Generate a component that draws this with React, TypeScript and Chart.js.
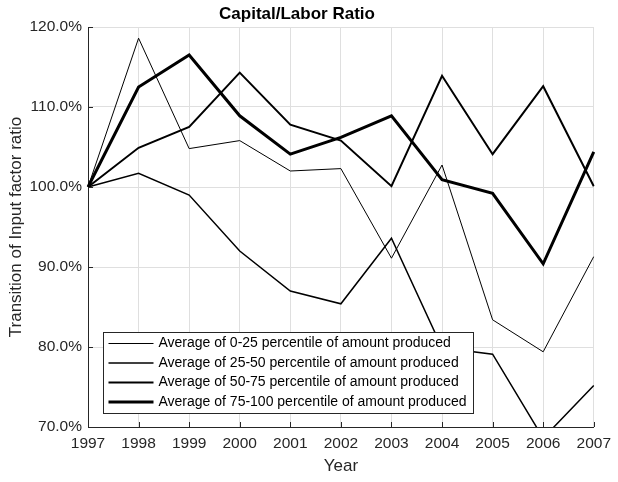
import React, { useEffect, useRef } from "react";
import { Chart, registerables } from "chart.js";

Chart.register(...registerables);

const years = ["1997", "1998", "1999", "2000", "2001", "2002", "2003", "2004", "2005", "2006", "2007"];
const seriesLabels = [
  "Average of 0-25 percentile of amount produced",
  "Average of 25-50 percentile of amount produced",
  "Average of 50-75 percentile of amount produced",
  "Average of 75-100 percentile of amount produced",
];
const p0to25 = [100, 118.6, 104.8, 105.8, 102.0, 102.3, 91.1, 102.75, 83.4, 79.4, 91.3];
const p25to50 = [100, 101.7, 99.0, 92.0, 87.0, 85.4, 93.6, 79.9, 79.1, 68.6, 75.2];
const p50to75 = [100, 104.9, 107.5, 114.3, 107.8, 105.8, 100.1, 113.9, 104.1, 112.6, 100.1];
const p75to100 = [100, 112.5, 116.5, 108.9, 104.1, 106.2, 108.9, 100.9, 99.2, 90.4, 104.4];
const lineWidths = [1, 1.5, 2, 3];
const yTicks = [70, 80, 90, 100, 110, 120];

const FONT = "'Liberation Sans', Arial, Helvetica, sans-serif";
const AXIS_COLOR = "#262626";
const GRID_COLOR = "#dfdfdf";

const innerTicks = {
  id: "innerTicks",
  afterDraw(chart: any) {
    const { ctx, chartArea, scales } = chart;
    ctx.save();
    ctx.strokeStyle = AXIS_COLOR;
    ctx.lineWidth = 1;
    const xs = scales.x;
    for (let i = 0; i < years.length; i++) {
      const x = Math.round(xs.getPixelForValue(i)) + 0.5;
      ctx.beginPath();
      ctx.moveTo(x, chartArea.bottom);
      ctx.lineTo(x, chartArea.bottom - 5);
      ctx.stroke();
    }
    const ys = scales.y;
    for (const v of yTicks) {
      const y = Math.round(ys.getPixelForValue(v)) + 0.5;
      ctx.beginPath();
      ctx.moveTo(chartArea.left, y);
      ctx.lineTo(chartArea.left + 5, y);
      ctx.stroke();
    }
    ctx.restore();
  },
};

const boxLegend = {
  id: "boxLegend",
  afterDatasetsDraw(chart: any) {
    const { ctx } = chart;
    const left = 103.5, top = 332.5, width = 370, height = 81;
    ctx.save();
    ctx.fillStyle = "#ffffff";
    ctx.fillRect(left, top, width, height);
    ctx.strokeStyle = AXIS_COLOR;
    ctx.lineWidth = 1;
    ctx.strokeRect(left, top, width, height);
    ctx.font = `14px ${FONT}`;
    ctx.textBaseline = "middle";
    ctx.textAlign = "left";
    chart.data.datasets.forEach((ds: any, i: number) => {
      const y = top + 11 + i * 19.5;
      ctx.strokeStyle = "#000";
      ctx.lineWidth = ds.borderWidth;
      ctx.beginPath();
      ctx.moveTo(left + 5, y);
      ctx.lineTo(left + 50, y);
      ctx.stroke();
      ctx.fillStyle = "#000";
      ctx.fillText(ds.label, left + 55, y);
    });
    ctx.restore();
  },
};

export default function App() {
  const ref = useRef<HTMLCanvasElement | null>(null);
  useEffect(() => {
    if (!ref.current) return;
    const all = [p0to25, p25to50, p50to75, p75to100];
    const chart = new Chart(ref.current, {
      type: "line",
      data: {
        labels: years,
        datasets: all.map((d, i) => ({
          label: seriesLabels[i],
          data: d,
          borderColor: "#000",
          backgroundColor: "#000",
          borderWidth: lineWidths[i],
          pointRadius: 0,
          tension: 0,
          fill: false,
        })),
      },
      options: {
        responsive: false,
        animation: false,
        devicePixelRatio: 1,
        layout: { padding: { left: 0, right: 24, top: 0, bottom: 0 } },
        plugins: {
          legend: { display: false },
          tooltip: { enabled: false },
          title: {
            display: true,
            text: "Capital/Labor Ratio",
            color: "#000",
            font: { family: FONT, size: 17, weight: "bold", lineHeight: 1.2 },
            padding: { top: 4, bottom: 2.6 },
          },
        },
        scales: {
          x: {
            type: "category",
            offset: false,
            afterFit(scale: any) { scale.height = 55; },
            grid: { color: GRID_COLOR, drawTicks: false },
            border: { color: AXIS_COLOR, width: 1 },
            ticks: { color: AXIS_COLOR, font: { family: FONT, size: 15.5 }, padding: 7, maxRotation: 0, autoSkip: false },
            title: { display: true, text: "Year", color: AXIS_COLOR, font: { family: FONT, size: 17 }, padding: { top: 0, bottom: 5 } },
          },
          y: {
            min: 70,
            max: 120,
            afterFit(scale: any) { scale.width = 88; },
            afterBuildTicks(scale: any) { scale.ticks = yTicks.map((v) => ({ value: v })); },
            grid: { color: GRID_COLOR, drawTicks: false },
            border: { color: AXIS_COLOR, width: 1 },
            ticks: {
              color: AXIS_COLOR,
              font: { family: FONT, size: 15.5 },
              padding: 6,
              callback: (v: any) => Number(v).toFixed(1) + "%",
            },
            title: { display: true, text: "Transition of Input factor ratio", color: AXIS_COLOR, font: { family: FONT, size: 17 }, padding: { top: 6, bottom: 0 } },
          },
        },
      },
      plugins: [innerTicks, boxLegend],
    });
    return () => chart.destroy();
  }, []);
  return (
    <div style={{ position: "absolute", left: 0, top: 0, width: 618, height: 482, background: "#fff" }}>
      <canvas ref={ref} width={618} height={482} />
    </div>
  );
}
